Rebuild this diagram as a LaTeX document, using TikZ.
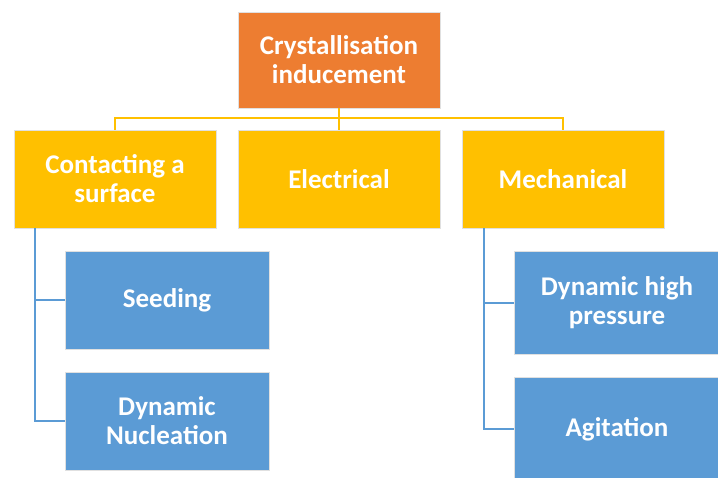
\documentclass[tikz,border=0pt]{standalone}
\usepackage{fontspec}
\setmainfont{Carlito}
\definecolor{rootorange}{HTML}{ED7D31}
\definecolor{groupgold}{HTML}{FFC000}
\definecolor{leafblue}{HTML}{5B9BD5}
\begin{document}
\begin{tikzpicture}[
    x=1pt, y=-1pt,
    box/.style={draw=black!12, line width=0.8pt, text=white, align=center,
        font=\bfseries\fontsize{27}{29}\selectfont, inner sep=0pt,
        minimum width=202pt, minimum height=96pt},
    root/.style={box, fill=rootorange},
    group/.style={box, fill=groupgold, minimum height=98pt},
    leaf/.style={box, fill=leafblue, minimum width=204pt, minimum height=98pt},
    trunk/.style={draw=groupgold, line width=2pt},
    branch/.style={draw=leafblue, line width=2pt}
]
    \clip (0,0) rectangle (718,477);
    \fill[white] (0,0) rectangle (718,477);

    % Top of the tree
    \node[root] (root) at (339,60) {Crystallisation\\inducement};

    % Second level
    \node[group] (contact) at (115,179) {Contacting a\\surface};
    \node[group] (electric) at (339,179) {Electrical};
    \node[group] (mech) at (563,179) {Mechanical};

    % Leaves under the outer groups
    \node[leaf] (seeding) at (167,300) {Seeding};
    \node[leaf] (nucleation) at (167,421) {Dynamic\\Nucleation};
    \node[leaf, minimum width=206pt, minimum height=103pt] (pressure) at (617,303) {Dynamic high\\pressure};
    \node[leaf, minimum width=206pt, minimum height=103pt] (agitation) at (617,429) {Agitation};

    % Yellow bus from the root to the groups
    \coordinate (bus) at (339,118);
    \draw[trunk] (root.south) -- (electric.north);
    \foreach \g in {contact,mech}
        \draw[trunk] (root.south) -- (root.south |- bus) -| (\g.north);

    % Blue elbows down to the leaves
    \foreach \l in {seeding,nucleation}
        \draw[branch] ([xshift=21pt]contact.south west) |- (\l.west);
    \foreach \l in {pressure,agitation}
        \draw[branch] ([xshift=22pt]mech.south west) |- (\l.west);

\end{tikzpicture}
\end{document}
